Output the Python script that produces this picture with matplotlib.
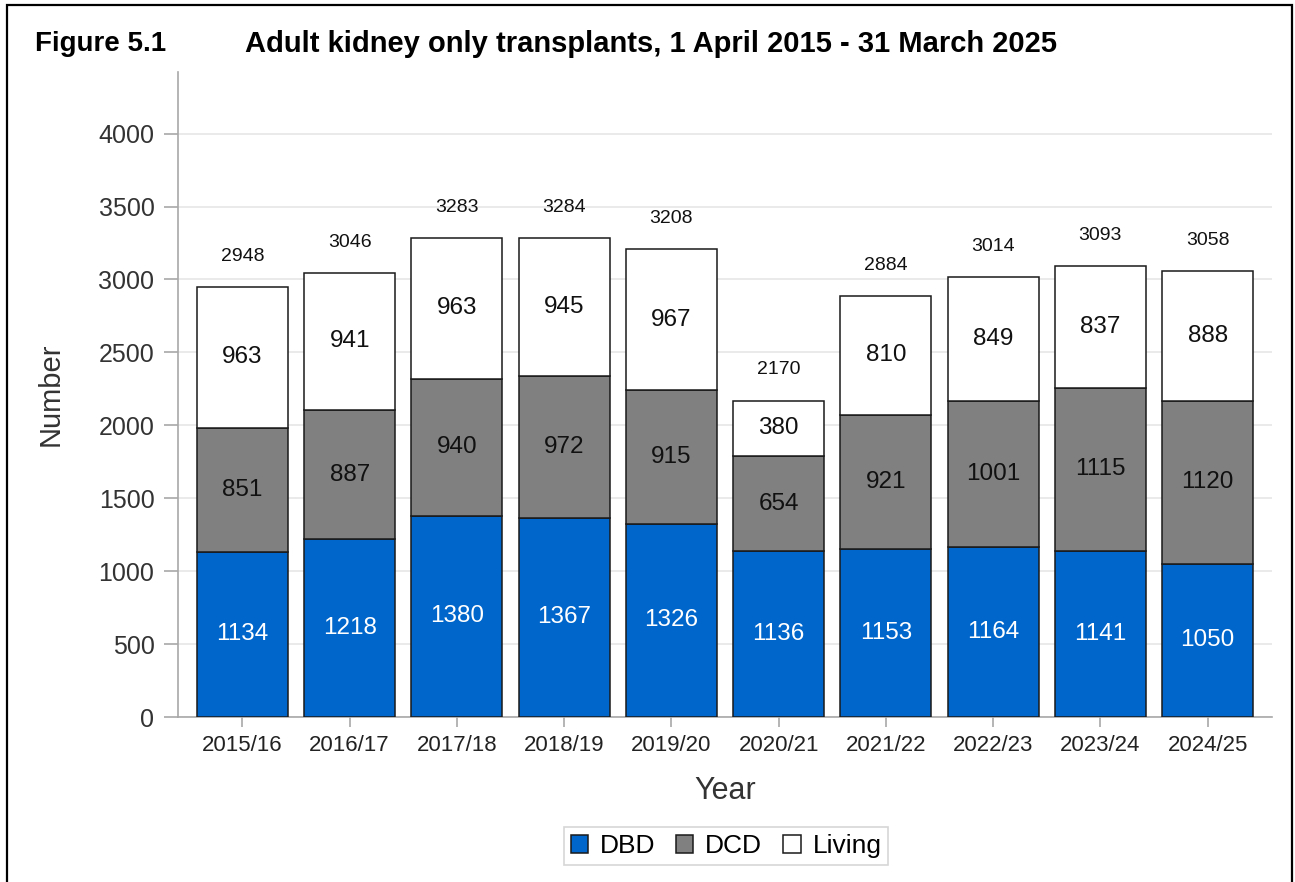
import matplotlib.pyplot as plt
from matplotlib.patches import Rectangle
import numpy as np

plt.rcParams['font.family'] = ['Liberation Sans', 'DejaVu Sans']

years = ['2015/16', '2016/17', '2017/18', '2018/19', '2019/20',
         '2020/21', '2021/22', '2022/23', '2023/24', '2024/25']
dbd = [1134, 1218, 1380, 1367, 1326, 1136, 1153, 1164, 1141, 1050]
dcd = [851, 887, 940, 972, 915, 654, 921, 1001, 1115, 1120]
living = [963, 941, 963, 945, 967, 380, 810, 849, 837, 888]
totals = [2948, 3046, 3283, 3284, 3208, 2170, 2884, 3014, 3093, 3058]

fig = plt.figure(figsize=(12.95, 8.82), dpi=100)
ax = fig.add_axes([0.1375, 0.187, 0.8447, 0.731])

x = np.arange(len(years))
w = 0.85
dbd = np.array(dbd)
dcd = np.array(dcd)
living = np.array(living)

ax.bar(x, dbd, w, color='#0066cc', edgecolor='#1a1a1a', linewidth=1.1, label='DBD', zorder=3)
ax.bar(x, dcd, w, bottom=dbd, color='#808080', edgecolor='#1a1a1a', linewidth=1.1, label='DCD', zorder=3)
ax.bar(x, living, w, bottom=dbd + dcd, color='white', edgecolor='#1a1a1a', linewidth=1.1, label='Living', zorder=3)

for i in range(len(years)):
    ax.text(x[i], dbd[i] / 2, str(dbd[i]), ha='center', va='center', fontsize=17.5, color='white', zorder=4)
    ax.text(x[i], dbd[i] + dcd[i] / 2, str(dcd[i]), ha='center', va='center', fontsize=17.5, color='#111111', zorder=4)
    ax.text(x[i], dbd[i] + dcd[i] + living[i] / 2, str(living[i]), ha='center', va='center', fontsize=17.5, color='#111111', zorder=4)
    ax.annotate(str(totals[i]), (x[i], totals[i]), xytext=(0, 16), textcoords='offset points',
                ha='center', va='bottom', fontsize=14, color='#111111')

ax.set_xlim(-0.6, 9.6)
ax.set_ylim(0, 4420)
ax.set_yticks(range(0, 4001, 500))
ax.set_xticks(x)
ax.set_xticklabels(years)

ax.grid(axis='y', color='#e8e8e8', linewidth=1.3, zorder=0)
ax.set_axisbelow(True)
for s in ['top', 'right']:
    ax.spines[s].set_visible(False)
for s in ['left', 'bottom']:
    ax.spines[s].set_color('#a8a8a8')
    ax.spines[s].set_linewidth(1.2)

ax.tick_params(axis='y', length=10, width=1.2, color='#a8a8a8', pad=7, labelsize=18, labelcolor='#333333')
ax.tick_params(axis='x', length=7, width=1.2, color='#a8a8a8', pad=6, labelsize=16, labelcolor='#222222')

ax.set_xlabel('Year', fontsize=22, color='#333333', labelpad=14)
ax.set_ylabel('Number', fontsize=21, color='#333333', labelpad=24)

leg = ax.legend(loc='center', bbox_to_anchor=(0.5606, 0.0408), bbox_transform=fig.transFigure,
                ncol=3, fontsize=19, frameon=True, fancybox=False, handlelength=0.65,
                handleheight=0.65, handletextpad=0.45, columnspacing=0.8, borderpad=0.25,
                borderaxespad=0)
leg.get_frame().set_edgecolor('#cccccc')
leg.get_frame().set_linewidth(1.2)

fig.text(35 / 1295, 1 - 44 / 882, 'Figure 5.1', fontsize=20, fontweight='bold', va='center', ha='left')
fig.text(245 / 1295, 1 - 44 / 882, 'Adult kidney only transplants, 1 April 2015 - 31 March 2025',
         fontsize=21, fontweight='bold', va='center', ha='left')

border = Rectangle((7 / 1295, -0.05), (1292 - 7) / 1295, 1.05 - 5 / 882, transform=fig.transFigure,
                   fill=False, edgecolor='black', linewidth=1.6)
fig.patches.append(border)

fig.savefig('out.png', dpi=100)
